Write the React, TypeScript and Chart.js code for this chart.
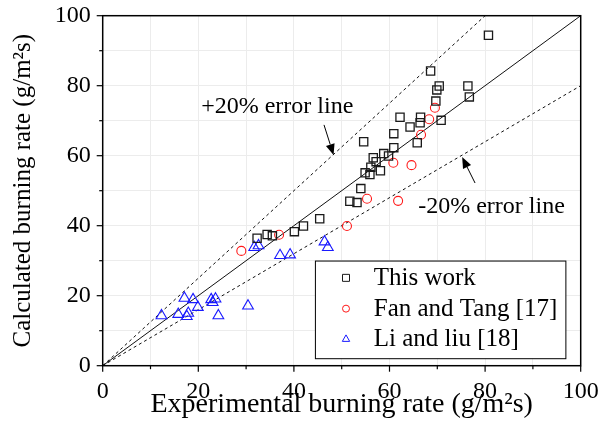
import React, { useEffect, useRef } from 'react';
import { Chart, registerables } from 'chart.js';

Chart.register(...registerables);

// ---- data ----
const thisWorkX = [80.7, 68.6, 70.4, 69.9, 76.4, 76.7, 69.7, 62.2, 66.5, 66.4, 64.3, 70.8, 60.9, 54.6, 65.8, 60.9, 58.8, 56.6, 59.8, 57.2, 56.1, 54.9, 55.9, 58.1, 54.0, 51.7, 53.2, 32.3, 34.4, 35.5, 40.1, 42.0, 45.4];
const thisWorkY = [94.4, 84.2, 79.9, 78.8, 79.9, 76.8, 75.6, 71.0, 71.0, 69.4, 68.2, 70.1, 66.3, 64.0, 63.7, 62.3, 60.6, 59.4, 59.9, 58.3, 56.7, 55.1, 54.6, 55.7, 50.6, 47.0, 46.6, 36.4, 37.5, 37.1, 38.3, 39.9, 42.0];

const fanTangX = [69.5, 68.3, 66.6, 60.8, 64.6, 55.3, 61.8, 51.1, 36.9, 29.0];
const fanTangY = [73.7, 70.4, 66.0, 58.0, 57.3, 47.7, 47.1, 39.9, 37.4, 32.8];

const liLiuX = [31.7, 32.6, 37.1, 39.2, 46.4, 47.1, 17.1, 18.9, 22.7, 23.6, 23.0, 19.9, 17.9, 17.6, 15.8, 12.3, 24.2, 30.4];
const liLiuY = [33.8, 34.3, 31.5, 31.7, 35.4, 33.8, 19.3, 18.9, 18.9, 19.1, 18.1, 16.7, 15.0, 14.1, 14.7, 14.3, 14.3, 17.1];

const seriesLabels = ['This work', 'Fan and Tang [17]', 'Li and liu [18]'];
const axisTicks = [0, 20, 40, 60, 80, 100];
const xTitle = 'Experimental burning rate (g/m\u00B2s)';
const yTitle = 'Calculated burning rate (g/m\u00B2s)';

const idealLineX = [0, 100];
const idealLineY = [0, 100];
const plusLineX = [0, 80];
const plusLineY = [0, 100];
const minusLineX = [0, 100];
const minusLineY = [0, 80];

const annotationTexts = ['+20% error line', '-20% error line'];

// ---- positions (data coordinates) ----
const annotationTextPos = [
  { x: 20.6, y: 72.2 },
  { x: 66.0, y: 43.6 },
];
const arrowPos = [
  { fromX: 46.3, fromY: 68.8, toX: 48.3, toY: 60.2 },
  { fromX: 77.9, fromY: 52.2, toX: 75.2, toY: 59.6 },
];
const legendBox = { x0: 44.5, y0: 29.9, x1: 96.9, y1: 2.0 };
const legendRowsY = [25.1, 16.3, 7.7];
const legendMarkerX = 50.9;
const legendTextX = 56.7;

const FONT = '"Liberation Serif", "Times New Roman", serif';
const COLORS = ['#1a1a1a', '#ff1a1a', '#1a1aff'];

function pts(xs: number[], ys: number[]) {
  return xs.map((x, i) => ({ x, y: ys[i] }));
}

function drawMarker(ctx: CanvasRenderingContext2D, kind: number, x: number, y: number, r: number) {
  ctx.beginPath();
  if (kind === 0) {
    ctx.rect(x - r, y - r, 2 * r, 2 * r);
  } else if (kind === 1) {
    ctx.arc(x, y, r, 0, Math.PI * 2);
  } else {
    ctx.moveTo(x, y - r * 1.1);
    ctx.lineTo(x + r * 1.05, y + r * 0.75);
    ctx.lineTo(x - r * 1.05, y + r * 0.75);
    ctx.closePath();
  }
  ctx.stroke();
}

const overlayPlugin = {
  id: 'overlay',
  afterDraw(chart: any) {
    const { ctx, chartArea: a } = chart;
    const xs = chart.scales.x;
    const ys = chart.scales.y;
    const px = (v: number) => xs.getPixelForValue(v);
    const py = (v: number) => ys.getPixelForValue(v);
    ctx.save();

    // frame
    ctx.strokeStyle = '#000';
    ctx.lineWidth = 1.5;
    ctx.strokeRect(a.left, a.top, a.right - a.left, a.bottom - a.top);

    // ticks
    ctx.lineWidth = 1.2;
    for (let v = 0; v <= 100; v += 10) {
      const len = v % 20 === 0 ? 6 : 3.5;
      const x = px(v);
      ctx.beginPath();
      ctx.moveTo(x, a.bottom);
      ctx.lineTo(x, a.bottom + len);
      ctx.stroke();
      const y = py(v);
      ctx.beginPath();
      ctx.moveTo(a.left, y);
      ctx.lineTo(a.left - len, y);
      ctx.stroke();
    }

    // annotations
    ctx.fillStyle = '#000';
    ctx.font = `24px ${FONT}`;
    ctx.textAlign = 'left';
    ctx.textBaseline = 'alphabetic';
    annotationTexts.forEach((t, i) => {
      ctx.fillText(t, px(annotationTextPos[i].x), py(annotationTextPos[i].y));
    });
    arrowPos.forEach((ar) => {
      const x0 = px(ar.fromX), y0 = py(ar.fromY), x1 = px(ar.toX), y1 = py(ar.toY);
      const ang = Math.atan2(y1 - y0, x1 - x0);
      const hl = 11, hw = 4.5;
      const bx = x1 - hl * Math.cos(ang), by = y1 - hl * Math.sin(ang);
      ctx.lineWidth = 1;
      ctx.beginPath();
      ctx.moveTo(x0, y0);
      ctx.lineTo(bx, by);
      ctx.stroke();
      ctx.beginPath();
      ctx.moveTo(x1, y1);
      ctx.lineTo(bx + hw * Math.sin(ang), by - hw * Math.cos(ang));
      ctx.lineTo(bx - hw * Math.sin(ang), by + hw * Math.cos(ang));
      ctx.closePath();
      ctx.fill();
    });

    // legend
    const lx0 = px(legendBox.x0), ly0 = py(legendBox.y0), lx1 = px(legendBox.x1), ly1 = py(legendBox.y1);
    ctx.fillStyle = '#fff';
    ctx.fillRect(lx0, ly0, lx1 - lx0, ly1 - ly0);
    ctx.strokeStyle = '#000';
    ctx.lineWidth = 1;
    ctx.strokeRect(lx0, ly0, lx1 - lx0, ly1 - ly0);
    ctx.font = `25px ${FONT}`;
    ctx.textBaseline = 'middle';
    seriesLabels.forEach((lab, i) => {
      const y = py(legendRowsY[i]);
      ctx.strokeStyle = COLORS[i];
      ctx.lineWidth = 1;
      drawMarker(ctx, i, px(legendMarkerX), y, 3.5);
      ctx.fillStyle = '#000';
      ctx.fillText(lab, px(legendTextX), y + 1);
    });
    ctx.restore();
  },
};

export default function App() {
  const ref = useRef<HTMLCanvasElement | null>(null);
  useEffect(() => {
    if (!ref.current) return;
    const lineDs = (xs: number[], ys: number[], dashed: boolean) => ({
      type: 'scatter' as const,
      data: pts(xs, ys),
      showLine: true,
      borderColor: '#111',
      borderWidth: 1,
      borderDash: dashed ? [3, 3] : [],
      pointRadius: 0,
      fill: false,
      order: 2,
    });
    const chart = new Chart(ref.current, {
      type: 'scatter',
      data: {
        datasets: [
          {
            label: seriesLabels[0],
            data: pts(thisWorkX, thisWorkY),
            pointStyle: 'rect',
            pointRadius: 5.8,
            borderColor: COLORS[0],
            backgroundColor: 'rgba(0,0,0,0)',
            borderWidth: 1.3,
            order: 0,
          },
          {
            label: seriesLabels[1],
            data: pts(fanTangX, fanTangY),
            pointStyle: 'circle',
            pointRadius: 4.5,
            borderColor: COLORS[1],
            backgroundColor: 'rgba(0,0,0,0)',
            borderWidth: 1.1,
            order: 0,
          },
          {
            label: seriesLabels[2],
            data: pts(liLiuX, liLiuY),
            pointStyle: 'triangle',
            pointRadius: 6.2,
            borderColor: COLORS[2],
            backgroundColor: 'rgba(0,0,0,0)',
            borderWidth: 1.1,
            order: 0,
          },
          lineDs(idealLineX, idealLineY, false),
          lineDs(plusLineX, plusLineY, true),
          lineDs(minusLineX, minusLineY, true),
        ] as any,
      },
      options: {
        responsive: false,
        animation: false,
        devicePixelRatio: 1,
        layout: { padding: { top: 15.7, right: 20.3, left: 0, bottom: 0 } },
        plugins: { legend: { display: false }, tooltip: { enabled: false } },
        scales: {
          x: {
            type: 'linear',
            min: 0,
            max: 100,
            afterFit: (s: any) => { s.height = 75.3; s.paddingLeft = 0; s.paddingRight = 0; },
            border: { display: false },
            grid: { color: '#ececec', lineWidth: 1, drawTicks: false },
            ticks: {
              stepSize: 10,
              padding: 12,
              color: '#000',
              font: { family: FONT, size: 24 },
              maxRotation: 0,
              autoSkip: false,
              callback: (v: any) => (axisTicks.includes(Number(v)) ? String(v) : ''),
            },
            title: {
              display: true,
              text: xTitle,
              color: '#000',
              font: { family: FONT, size: 28 },
              padding: { top: 0, bottom: 20 },
            },
          },
          y: {
            type: 'linear',
            min: 0,
            max: 100,
            afterFit: (s: any) => { s.width = 102.7; s.paddingTop = 0; s.paddingBottom = 0; },
            border: { display: false },
            grid: { color: '#ececec', lineWidth: 1, drawTicks: false },
            ticks: {
              stepSize: 10,
              padding: 12,
              color: '#000',
              font: { family: FONT, size: 24 },
              autoSkip: false,
              callback: (v: any) => (axisTicks.includes(Number(v)) ? String(v) : ''),
            },
            title: {
              display: true,
              text: yTitle,
              color: '#000',
              font: { family: FONT, size: 25 },
              padding: { top: 8, bottom: 0 },
            },
          },
        },
      },
      plugins: [overlayPlugin],
    } as any);
    return () => chart.destroy();
  }, []);
  return (
    <div style={{ position: 'absolute', left: 0, top: 0, width: 601, height: 441, background: '#fff' }}>
      <canvas ref={ref} width={601} height={441} style={{ width: 601, height: 441, display: 'block' }} />
    </div>
  );
}
